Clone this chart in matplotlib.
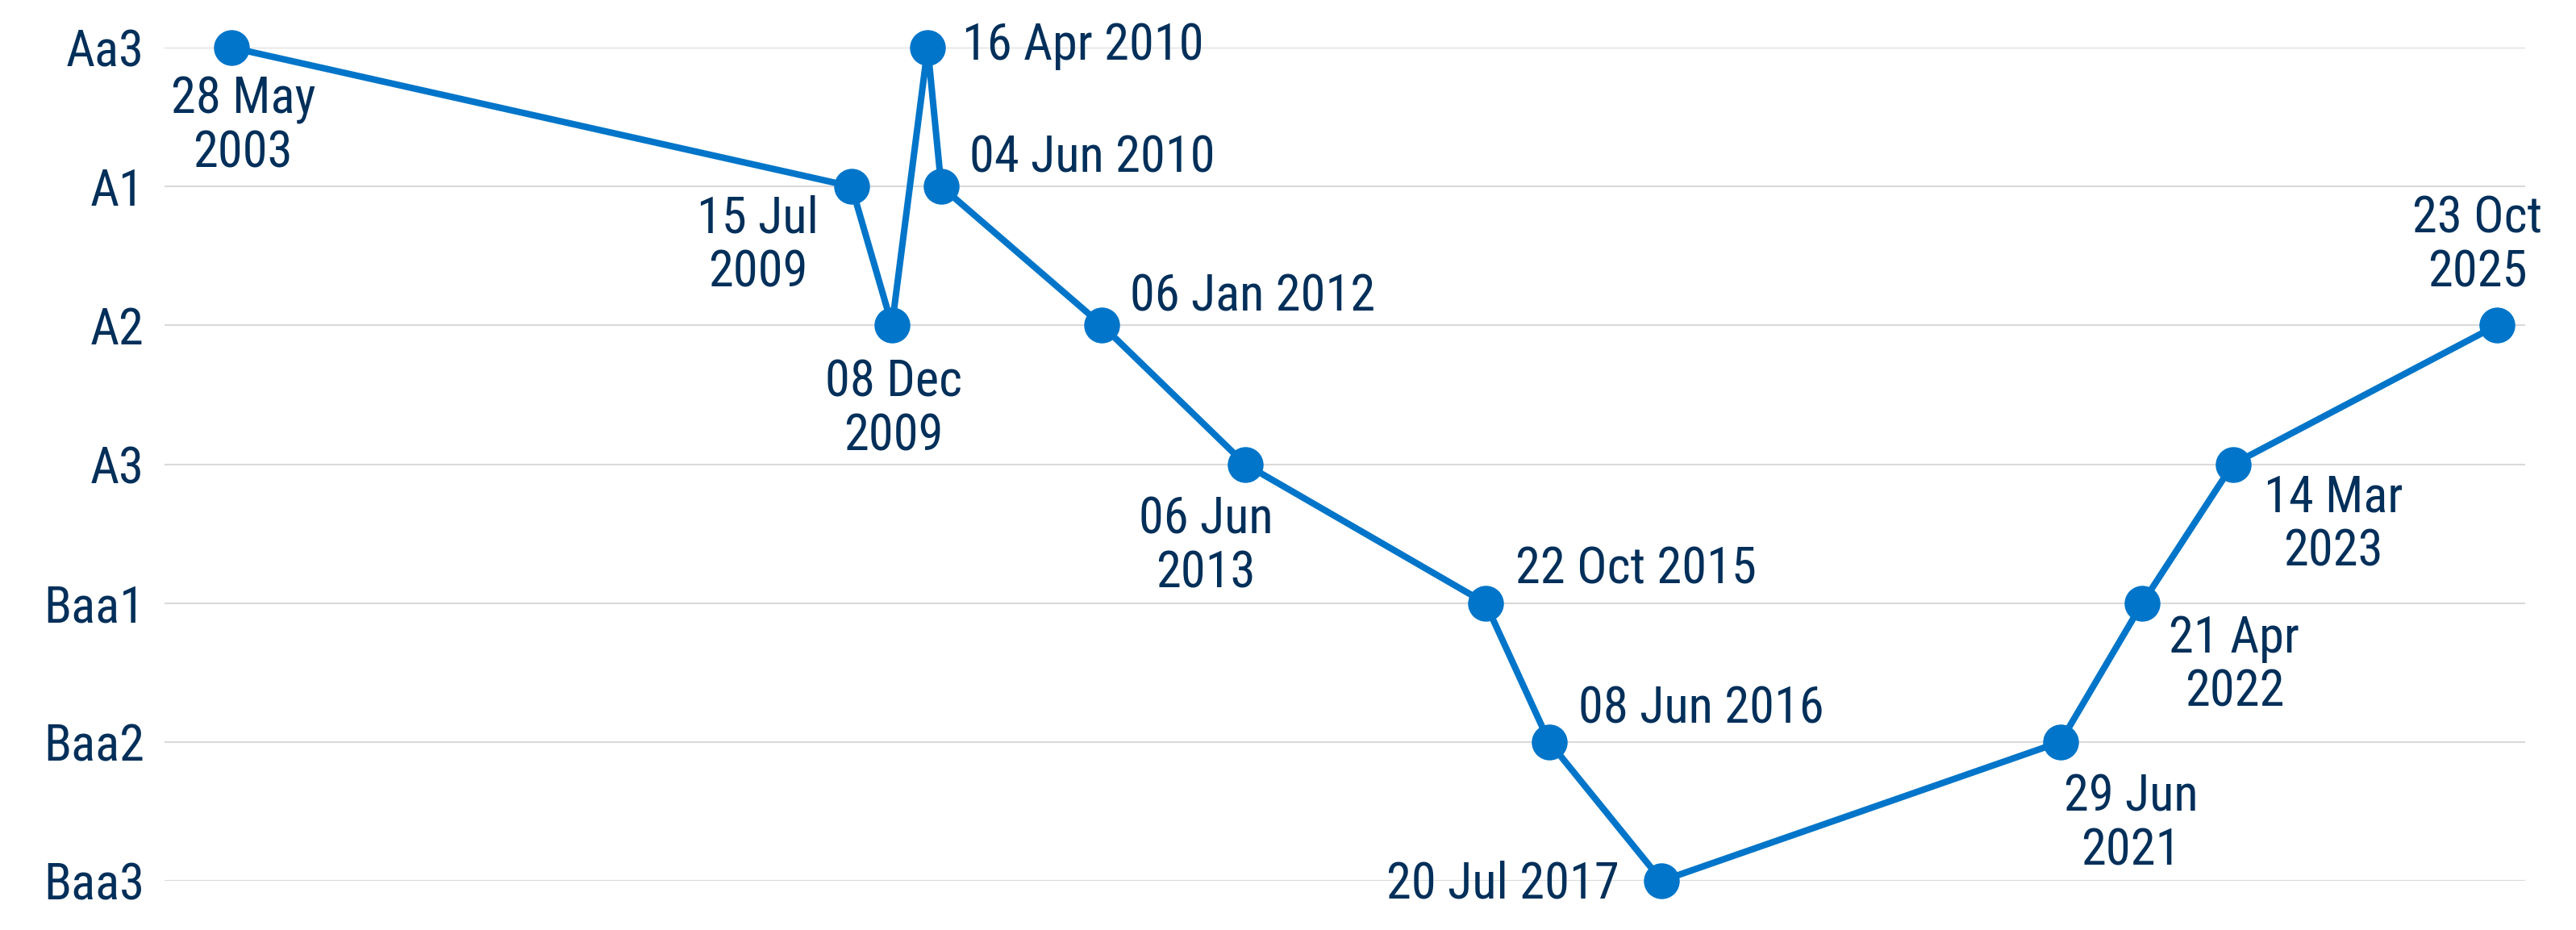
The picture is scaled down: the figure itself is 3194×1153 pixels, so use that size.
import os
import matplotlib
matplotlib.use("Agg")
import matplotlib.pyplot as plt
import matplotlib.font_manager as fm
import pandas as pd

# rating history
dates = ["2003-05-28", "2009-07-15", "2009-12-08", "2010-04-16", "2010-06-04",
         "2012-01-06", "2013-06-06", "2015-10-22", "2016-06-08", "2017-07-20",
         "2021-06-29", "2022-04-21", "2023-03-14", "2025-10-23"]
ratings = ["Aa3", "A1", "A2", "Aa3", "A1", "A2", "A3", "Baa1", "Baa2", "Baa3",
           "Baa2", "Baa1", "A3", "A2"]
scale = ["Aa3", "A1", "A2", "A3", "Baa1", "Baa2", "Baa3"]
labels = ["28 May\n2003", "15 Jul\n2009", "08 Dec\n2009", "16 Apr 2010", "04 Jun 2010",
          "06 Jan 2012", "06 Jun\n2013", "22 Oct 2015", "08 Jun 2016", "20 Jul 2017",
          "29 Jun\n2021", "21 Apr\n2022", "14 Mar\n2023", "23 Oct\n2025"]

# label placement: (dx, dy) in pixels of the 1568-wide view, ha, va
placement = [(7, -17, "center", "top"), (-57, -5, "center", "top"), (1, -20, "center", "top"),
             (21, 1, "left", "center"), (17, 17, "left", "center"), (17, 17, "left", "center"),
             (-24, -19, "center", "top"), (18, 20, "left", "center"), (18, 20, "left", "center"),
             (-26, -2, "right", "center"), (43, -19, "center", "top"), (56, -7, "center", "top"),
             (61, -6, "center", "top"), (-12, 17, "center", "bottom")]

BLUE = "#0075c9"
NAVY = "#002f5a"

# the original uses a condensed face; take the narrowest one we can find
wanted = ["LiberationSansNarrow-Regular.ttf", "RobotoCondensed-Regular.ttf",
          "DejaVuSansCondensed.ttf", "OpenSans_Condensed-Regular.ttf"]
files = {os.path.basename(f.fname): f.fname for f in fm.fontManager.ttflist}
font_file = next((files[w] for w in wanted if w in files), None)
if font_file:
    prop = fm.FontProperties(fname=font_file, size=45)
else:
    prop = fm.FontProperties(family=["Roboto", "DejaVu Sans"], stretch="condensed", size=45)

df = pd.DataFrame({"date": pd.to_datetime(dates), "rating": ratings})
df["level"] = df["rating"].map({r: i for i, r in enumerate(scale)})

fig = plt.figure(figsize=(31.94, 11.53), dpi=100)
ax = fig.add_axes([204/3194, 1 - 1092/1153, (3131-204)/3194, (1092-59)/1153])

ax.plot(df["date"], df["level"], color=BLUE, linewidth=5.8, marker="o",
        markersize=32, markeredgewidth=0, clip_on=False, zorder=3)

k = 3194 / 1568
for (d, lv, txt, (dx, dy, ha, va)) in zip(df["date"], df["level"], labels, placement):
    ax.annotate(txt, (d, lv), xytext=(dx*k, dy*k), textcoords="offset pixels",
                ha=ha, va=va, fontproperties=prop, color=NAVY, linespacing=1.15,
                multialignment="center", zorder=4)

ax.set_ylim(len(scale) - 1, 0)
ax.set_yticks(range(len(scale)))
ax.set_yticklabels(scale)
for lbl in ax.get_yticklabels():
    lbl.set_fontproperties(prop)
    lbl.set_color(NAVY)
ax.set_xlim(pd.Timestamp("2002-09-28"), pd.Timestamp("2026-02-02"))
ax.set_xticks([])
ax.tick_params(axis="y", length=0, pad=18)
ax.grid(axis="y", color="#d9d9d9", linewidth=1.5)
ax.set_axisbelow(True)
for s in ax.spines.values():
    s.set_visible(False)

fig.savefig("out.png", dpi=100)
